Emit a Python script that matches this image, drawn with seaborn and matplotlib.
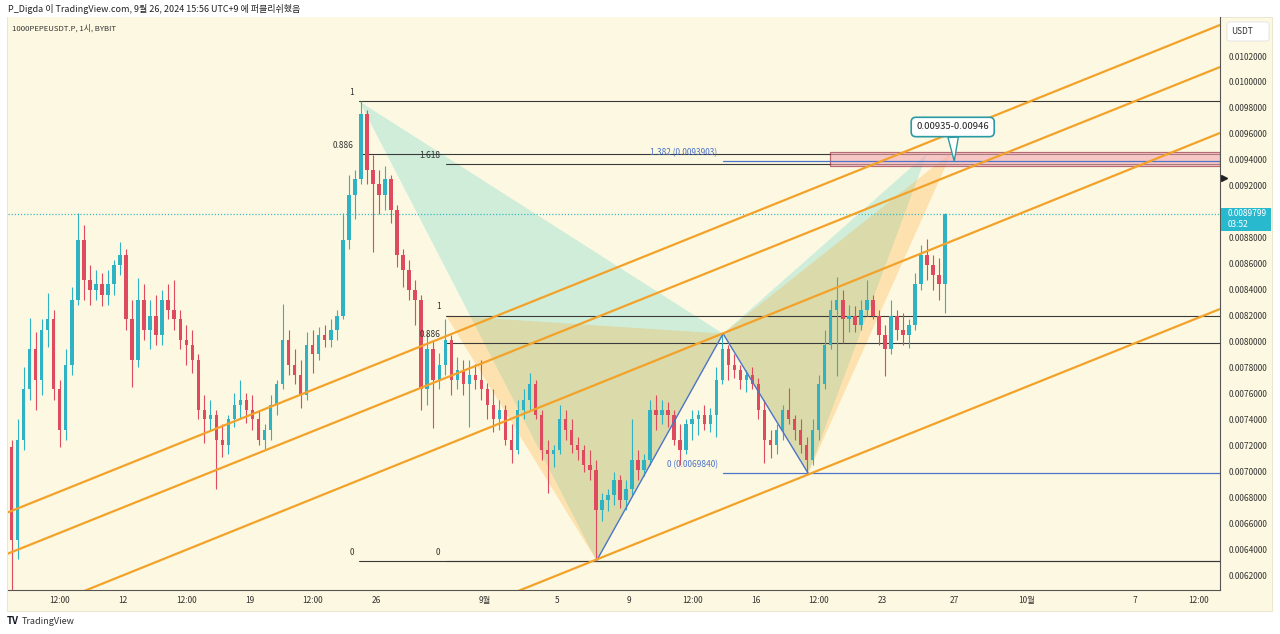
import numpy as np
import pandas as pd
import matplotlib
matplotlib.use('Agg')
import matplotlib.pyplot as plt
import matplotlib.dates as mdates
import matplotlib.transforms as mtransforms
from matplotlib.patches import Rectangle, Polygon, FancyBboxPatch
import seaborn as sns

# 1000PEPEUSDT.P, 8h candles (price x 1e-5), first candle starts 2024-08-05 16:00
first_open = 719
closes = [647, 724, 763, 794, 770, 809, 817, 763, 732, 782,
          832, 878, 847, 840, 844, 836, 844, 859, 867, 817,
          786, 832, 809, 820, 805, 832, 824, 817, 801, 797,
          786, 747, 740, 743, 724, 720, 740, 751, 755, 747,
          740, 724, 732, 751, 767, 801, 782, 774, 759, 797,
          790, 805, 801, 809, 820, 878, 913, 925, 975, 932,
          921, 913, 925, 901, 867, 855, 840, 832, 763, 794,
          770, 782, 801, 770, 778, 767, 774, 770, 763, 751,
          740, 747, 724, 716, 747, 755, 767, 743, 716, 713,
          716, 740, 732, 720, 716, 705, 701, 670, 678, 682,
          693, 678, 686, 709, 701, 709, 747, 743, 747, 743,
          724, 716, 736, 740, 743, 736, 743, 770, 794, 782,
          778, 770, 774, 767, 747, 724, 720, 732, 747, 740,
          732, 720, 709, 732, 767, 797, 824, 832, 817, 820,
          813, 824, 832, 820, 805, 794, 820, 809, 805, 813,
          844, 867, 859, 851, 844, 898]
highs = [724, 740, 780, 818, 807, 817, 837, 824, 770, 794,
         842, 899, 890, 859, 855, 853, 855, 863, 877, 871,
         832, 849, 844, 832, 836, 840, 844, 847, 824, 813,
         809, 790, 759, 755, 747, 736, 743, 760, 770, 760,
         759, 747, 736, 759, 770, 829, 809, 794, 786, 807,
         809, 811, 813, 817, 824, 899, 928, 932, 985, 978,
         944, 932, 935, 928, 905, 871, 863, 847, 836, 807,
         801, 791, 817, 805, 788, 786, 786, 783, 786, 768,
         763, 755, 751, 736, 755, 763, 776, 770, 747, 724,
         720, 751, 747, 740, 726, 720, 716, 709, 683, 686,
         699, 697, 693, 740, 716, 713, 755, 759, 755, 753,
         747, 736, 740, 747, 747, 751, 749, 780, 806, 797,
         790, 782, 778, 780, 772, 755, 732, 736, 751, 764,
         743, 740, 726, 740, 774, 809, 832, 850, 840, 828,
         827, 832, 847, 836, 824, 813, 832, 824, 822, 817,
         853, 874, 879, 867, 864, 899]
lows = [585, 632, 716, 755, 747, 759, 796, 755, 719, 724,
        774, 828, 832, 828, 832, 827, 828, 836, 851, 809,
        765, 780, 801, 794, 797, 797, 817, 809, 794, 782,
        776, 740, 722, 732, 686, 711, 713, 734, 740, 737,
        732, 720, 716, 724, 743, 763, 774, 767, 749, 755,
        776, 786, 796, 796, 801, 817, 871, 894, 921, 921,
        869, 898, 901, 891, 857, 842, 832, 813, 747, 751,
        733, 763, 774, 759, 763, 759, 734, 763, 755, 740,
        730, 732, 720, 706, 713, 740, 747, 740, 709, 683,
        703, 713, 724, 714, 709, 699, 693, 631, 662, 669,
        674, 672, 670, 682, 693, 696, 705, 732, 736, 734,
        720, 705, 713, 724, 728, 732, 730, 726, 767, 770,
        772, 763, 761, 763, 740, 706, 710, 713, 724, 736,
        724, 714, 698, 705, 724, 763, 794, 773, 799, 807,
        807, 809, 820, 817, 797, 773, 790, 801, 797, 795,
        809, 840, 847, 840, 832, 822]

last_price = 0.0089799

# pattern points (time, price)
pt_X = ('2024-08-25 02:00', 0.009850)
pt_X2 = ('2024-08-29 21:00', 0.008200)
pt_A = ('2024-09-07 05:00', 0.006310)
pt_B = ('2024-09-14 05:00', 0.008060)
pt_C = ('2024-09-18 22:00', 0.006984)
pt_D_teal = ('2024-09-25 12:00', 0.009450)
pt_D_orange = ('2024-09-26 21:00', 0.009460)

fib_teal = [('1', 0.009850), ('0.886', 0.009446), ('0', 0.006310)]
fib_orange = [('1', 0.008200), ('0.886', 0.007985), ('1.618', 0.009368), ('0', 0.006310)]
abcd_levels = [('1.382 (0.0093903)', 0.0093903), ('0 (0.0069840)', 0.0069840)]
zone_start = '2024-09-20 03:00'
zone_low, zone_high = 0.00935, 0.00946

# parallel channel lines: price at left edge / right edge
chan_left = [0.006683, 0.006365, 0.005840, 0.004497]
chan_right = [0.010439, 0.010115, 0.009607, 0.008250]

x_start, x_end = '2024-08-05 15:16', '2024-10-11 17:00'
y_low, y_high = 0.0060844, 0.0105006

tick_times = ['2024-08-08 12:00', '2024-08-12', '2024-08-15 12:00', '2024-08-19', '2024-08-22 12:00',
              '2024-08-26', '2024-09-01', '2024-09-05', '2024-09-09', '2024-09-12 12:00', '2024-09-16',
              '2024-09-19 12:00', '2024-09-23', '2024-09-27', '2024-10-01', '2024-10-07', '2024-10-10 12:00']
tick_labels = ['12:00', '12', '12:00', '19', '12:00', '26', '9월', '5', '9', '12:00', '16',
               '12:00', '23', '27', '10월', '7', '12:00']
price_ticks = [0.0062, 0.0064, 0.0066, 0.0068, 0.0070, 0.0072, 0.0074, 0.0076, 0.0078, 0.0080,
               0.0082, 0.0084, 0.0086, 0.0088, 0.0092, 0.0094, 0.0096, 0.0098, 0.0100, 0.0102]


def T(s):
    return mdates.date2num(pd.Timestamp(s))


sns.set_style('white')
plt.rcParams['font.family'] = ['Noto Sans CJK KR', 'DejaVu Sans']

W, H = 1280, 634
fx = lambda px: px / W
fy = lambda py: 1 - py / H

cream = '#fdf8e1'
up_col, down_col = '#2fb3c4', '#de4b5e'
teal, orange = '#30c9c2', '#ff9800'
line_col = '#3a3a3a'
blue = '#4d74c8'

fig = plt.figure(figsize=(12.8, 6.34), dpi=100)
fig.patch.set_facecolor('white')
fig.patches.append(Rectangle((fx(7), fy(611)), fx(1272) - fx(7), fy(17) - fy(611),
                             transform=fig.transFigure, facecolor=cream,
                             edgecolor='#e8e2c8', lw=0.6, zorder=-5))
ax = fig.add_axes([fx(8), fy(590), fx(1220) - fx(8), fy(17) - fy(590)])
ax.set_facecolor(cream)

# candles
n = len(closes)
opens = [first_open] + closes[:-1]
o = np.array(opens) / 1e5
c = np.array(closes) / 1e5
h = np.maximum(np.array(highs) / 1e5, np.maximum(o, c))
l = np.minimum(np.array(lows) / 1e5, np.minimum(o, c))
t0 = pd.Timestamp('2024-08-05 16:00')
ct = mdates.date2num([t0 + pd.Timedelta(hours=8 * i + 4) for i in range(n)])
cols = [up_col if cc >= oo else down_col for oo, cc in zip(o, c)]
ax.vlines(ct, l, h, colors=cols, lw=0.8, zorder=3)
body_lo = np.minimum(o, c)
body_h = np.maximum(np.abs(c - o), 0.000008)
ax.bar(ct, body_h, bottom=body_lo, width=0.19, color=cols, lw=0, zorder=3)

# harmonic triangles
for pts, col in [((pt_X, pt_A, pt_B), teal), ((pt_X2, pt_A, pt_B), orange),
                 ((pt_B, pt_C, pt_D_teal), teal), ((pt_B, pt_C, pt_D_orange), orange)]:
    xy = [(T(t), p) for t, p in pts]
    ax.add_patch(Polygon(xy, closed=True, facecolor=col, alpha=0.22, lw=0, zorder=1))

x_right = T(x_end)


def level_label(t, price, text, color):
    ax.annotate(text, xy=(T(t), price), xytext=(-4, 3), textcoords='offset points',
                ha='right', va='bottom', fontsize=6, color=color, zorder=5)


# fib retracement levels
for name, p in fib_teal:
    ax.plot([T(pt_X[0]), x_right], [p, p], color=line_col, lw=0.8, zorder=2)
    level_label(pt_X[0], p, name, '#333333')
for name, p in fib_orange:
    ax.plot([T(pt_X2[0]), x_right], [p, p], color=line_col, lw=0.8, zorder=2)
    level_label(pt_X2[0], p, name, '#333333')

# ABCD lines
abc = pd.DataFrame({'t': [T(pt_A[0]), T(pt_B[0]), T(pt_C[0])],
                    'p': [pt_A[1], pt_B[1], pt_C[1]]})
sns.lineplot(data=abc, x='t', y='p', ax=ax, color=blue, lw=1.0, sort=False, estimator=None, zorder=4)
for name, p in abcd_levels:
    ax.plot([T(pt_B[0]), x_right], [p, p], color=blue, lw=0.9, zorder=4)
    level_label(pt_B[0], p, name, blue)

# target zone
ax.add_patch(Rectangle((T(zone_start), zone_low), x_right - T(zone_start), zone_high - zone_low,
                       facecolor='#f4a7b3', alpha=0.6, edgecolor='#8e1f33', lw=0.9, zorder=2))

# channel lines
for pl, pr in zip(chan_left, chan_right):
    ax.plot([T(x_start), x_right], [pl, pr], color='#f3a229', lw=1.6, zorder=4)

# last price line
ax.axhline(last_price, color='#3fb9c8', lw=0.9, ls=(0, (1, 1.5)), zorder=2)

ax.annotate('0.00935-0.00946', xy=(T('2024-09-27 00:00'), 0.00939),
            xytext=(T('2024-09-26 22:00'), 0.009653), ha='center', va='center',
            fontsize=6.8, color='#222222', zorder=7,
            bbox=dict(boxstyle='round,pad=0.55,rounding_size=0.5', fc='white', ec='#2a9aa5', lw=1.2),
            arrowprops=dict(arrowstyle='wedge,tail_width=1.1,shrink_factor=0.5', fc='white',
                            ec='#2a9aa5', lw=1.0, shrinkA=0, shrinkB=0))

ax.set_xlim(T(x_start), x_right)
ax.set_ylim(y_low, y_high)
ax.set_xticks([T(t) for t in tick_times])
ax.set_xticklabels(tick_labels)
ax.yaxis.tick_right()
ax.set_yticks(price_ticks)
ax.set_yticklabels([f'{v:.7f}' for v in price_ticks])
ax.tick_params(axis='y', length=0, pad=6.5, labelsize=6, labelcolor='#333333')
ax.tick_params(axis='x', length=0, pad=4.5, labelsize=6, labelcolor='#333333')
ax.set_xlabel('')
ax.set_ylabel('')
for side in ['left', 'top']:
    ax.spines[side].set_visible(False)
for side in ['bottom', 'right']:
    ax.spines[side].set_color('#555555')
    ax.spines[side].set_linewidth(0.8)

trans = mtransforms.blended_transform_factory(ax.transAxes, ax.transData)
ax.plot([1.003], [0.00926], marker='>', ms=4, color='#222222', transform=trans, clip_on=False)

# last price tag
fig.patches.append(Rectangle((fx(1221), fy(231)), fx(50), 23 / H, transform=fig.transFigure,
                             facecolor='#29b9cf', edgecolor='none', zorder=5))
fig.text(fx(1228), fy(213.5), '0.0089799', color='white', fontsize=6, va='center', zorder=6)
fig.text(fx(1228), fy(224.5), '03:52', color='white', fontsize=6, va='center', zorder=6)

# currency tag
fig.patches.append(FancyBboxPatch((fx(1227), fy(41)), fx(42), 19 / H, transform=fig.transFigure,
                                  boxstyle='round,pad=0,rounding_size=0.003', facecolor='white',
                                  edgecolor='#e2e2e2', lw=0.6, zorder=5))
fig.text(fx(1231), fy(31), 'USDT', color='#333333', fontsize=6, va='center', zorder=6)

fig.text(fx(8), fy(9), 'P_Digda 이 TradingView.com, 9월 26, 2024 15:56 UTC+9 에 퍼블리쉬했음',
         fontsize=6.5, color='#222222', va='center')
fig.text(fx(12), fy(28), '1000PEPEUSDT.P, 1시, BYBIT', fontsize=5.6, color='#333333', va='center')
fig.text(fx(7), fy(621), 'TV', fontsize=7, fontweight='bold', color='#131722', va='center')
fig.text(fx(22), fy(621), 'TradingView', fontsize=6.5, color='#333333', va='center')

fig.savefig('out.png', dpi=100, facecolor=fig.get_facecolor())
